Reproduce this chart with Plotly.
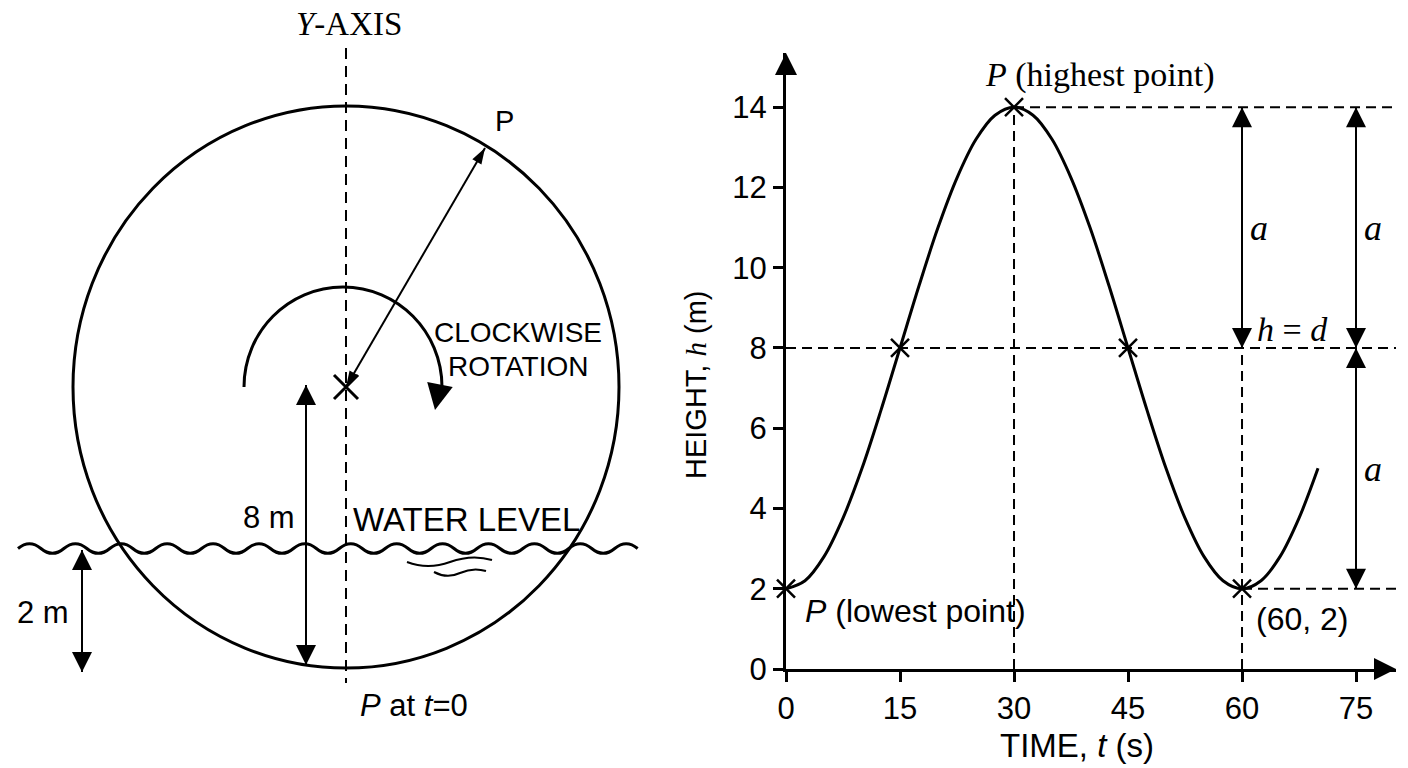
import math
import plotly.graph_objects as go

W, H = 1408, 768
SANS = "Liberation Sans, Arial, sans-serif"
SERIF = "Liberation Serif, Times New Roman, serif"


def fx(px):
    return px / W


def fy(py):
    return (H - py) / H


# ---------------- right chart: data ----------------
time_s = [0, 2.5, 5, 7.5, 10, 12.5, 15, 17.5, 20, 22.5, 25, 27.5, 30,
          32.5, 35, 37.5, 40, 42.5, 45, 47.5, 50, 52.5, 55, 57.5, 60,
          62.5, 65, 67.5, 70]
height_m = [2.0, 2.2, 2.8, 3.76, 5.0, 6.45, 8.0, 9.55, 11.0, 12.24, 13.2, 13.8, 14.0,
            13.8, 13.2, 12.24, 11.0, 9.55, 8.0, 6.45, 5.0, 3.76, 2.8, 2.2, 2.0,
            2.2, 2.8, 3.76, 5.0]
key_t = [0, 15, 30, 45, 60]
key_h = [2, 8, 14, 8, 2]
x_ticks = [0, 15, 30, 45, 60, 75]
y_ticks = [0, 2, 4, 6, 8, 10, 12, 14]
h_max, h_mid, h_min = 14, 8, 2
t_peak, t_trough = 30, 60
t_arrow2 = 75

# axis extents (arrow tips)
T_END = 80.26
H_END = 15.35

# ---------------- left diagram geometry (diagram units, origin = wheel centre) ----
CX_PX, CY_PX = 346, 387          # wheel centre on the page
WHEEL_RX, WHEEL_RY = 273, 281
P_POINT = (139, 239)
ROT_C = (-3, 0)
ROT_RX, ROT_RY = 99, 100
ROT_TIP = (89, -23)
YAXIS_TOP, YAXIS_BOT = 339, -296
ARROW8_X, ARROW8_TOP, ARROW8_BOT = -40, 2, -278
ARROW2_X, ARROW2_TOP, ARROW2_BOT = -264, -163, -285
WAVE_Y, WAVE_A, WAVE_P, WAVE_X0, WAVE_HALVES = -161.5, 4.8, 45.9, -328, 27

fig = go.Figure()

LX, LY = "x", "y"
RX, RY = "x2", "y2"


def line(xs, ys, xa, ya, width=2, dash=None):
    fig.add_trace(go.Scatter(x=xs, y=ys, xaxis=xa, yaxis=ya, mode="lines",
                             line=dict(color="black", width=width, dash=dash),
                             hoverinfo="skip", cliponaxis=False))


def head(x, y, angle, xa, ya, size=20, symbol="arrow-up"):
    fig.add_trace(go.Scatter(x=[x], y=[y], xaxis=xa, yaxis=ya, mode="markers",
                             marker=dict(symbol=symbol, size=size, angle=angle,
                                         color="black", line=dict(width=0)),
                             hoverinfo="skip", cliponaxis=False))


def dbl_vertical(x, y_top, y_bot, xa, ya, size=20, width=2):
    line([x, x], [y_top, y_bot], xa, ya, width)
    head(x, y_top, 0, xa, ya, size)
    head(x, y_bot, 180, xa, ya, size)


# ---------- left diagram ----------
line([0, 0], [YAXIS_TOP, YAXIS_BOT], LX, LY, 2, "11px,7px")
line([0, P_POINT[0]], [0, P_POINT[1]], LX, LY, 2)
ang = math.degrees(math.atan2(P_POINT[0], P_POINT[1]))
head(P_POINT[0], P_POINT[1], ang, LX, LY, 17, "arrow")
head(0, 0, ang + 180, LX, LY, 17, "arrow")
fig.add_trace(go.Scatter(x=[0], y=[0], xaxis=LX, yaxis=LY, mode="markers",
                         marker=dict(symbol="x-thin", size=24, line=dict(width=3, color="black")),
                         hoverinfo="skip"))
dbl_vertical(ARROW8_X, ARROW8_TOP, ARROW8_BOT, LX, LY, 20, 2)
dbl_vertical(ARROW2_X, ARROW2_TOP, ARROW2_BOT, LX, LY, 20, 2)
head(ROT_TIP[0], ROT_TIP[1], 191, LX, LY, 26)

# ---------- right chart ----------
DASH = "10px,6px"
line([0, T_END], [h_mid, h_mid], RX, RY, 2, DASH)
line([t_peak, T_END], [h_max, h_max], RX, RY, 2, DASH)
line([t_trough, T_END], [h_min, h_min], RX, RY, 2, DASH)
line([t_peak, t_peak], [0, h_max], RX, RY, 2, DASH)
line([t_trough, t_trough], [0, h_mid], RX, RY, 2, DASH)

fig.add_trace(go.Scatter(x=time_s, y=height_m, xaxis=RX, yaxis=RY, mode="lines",
                         line=dict(color="black", width=3, shape="spline"),
                         hoverinfo="skip", cliponaxis=False))
fig.add_trace(go.Scatter(x=key_t, y=key_h, xaxis=RX, yaxis=RY, mode="markers",
                         marker=dict(symbol="x-thin", size=18, line=dict(width=2.5, color="black")),
                         hoverinfo="skip", cliponaxis=False))

dbl_vertical(t_trough, h_max, h_mid, RX, RY, 20, 2)
dbl_vertical(t_arrow2, h_max, h_mid, RX, RY, 20, 2)
dbl_vertical(t_arrow2, h_mid, h_min, RX, RY, 20, 2)

head(0, H_END, 0, RX, RY, 22)
head(T_END, 0, 90, RX, RY, 22)

# ---------- shapes for left diagram ----------
shapes = []
shapes.append(dict(type="circle", xref=LX, yref=LY, x0=-WHEEL_RX, x1=WHEEL_RX,
                   y0=-WHEEL_RY, y1=WHEEL_RY, line=dict(color="black", width=3)))
k = 0.5523
cx, cy = ROT_C
rx, ry = ROT_RX, ROT_RY
end_x = cx + rx * math.cos(math.radians(-2))
end_y = cy + ry * math.sin(math.radians(-2))
arc = (f"M {cx - rx},{cy} C {cx - rx},{cy + k * ry} {cx - k * rx},{cy + ry} {cx},{cy + ry} "
       f"C {cx + k * rx},{cy + ry} {cx + rx},{cy + k * ry} {cx + rx},{cy} L {end_x},{end_y}")
shapes.append(dict(type="path", xref=LX, yref=LY, path=arc, line=dict(color="black", width=3)))

half = WAVE_P / 2
wp = f"M {WAVE_X0},{WAVE_Y} Q {WAVE_X0 + WAVE_P / 4},{WAVE_Y + 2 * WAVE_A} {WAVE_X0 + half},{WAVE_Y}"
for i in range(2, WAVE_HALVES + 1):
    wp += f" T {WAVE_X0 + i * half},{WAVE_Y}"
shapes.append(dict(type="path", xref=LX, yref=LY, path=wp, line=dict(color="black", width=3)))
shapes.append(dict(type="path", xref=LX, yref=LY,
                   path="M 61,-175 Q 82,-183 104,-175 T 146,-173",
                   line=dict(color="black", width=2)))
shapes.append(dict(type="path", xref=LX, yref=LY,
                   path="M 88,-185 Q 101,-192 114,-186 T 140,-184",
                   line=dict(color="black", width=2)))


def txt(x, y, text, xa, ya, size=30, family=SANS, xanchor="center", **kw):
    return dict(x=x, y=y, xref=xa, yref=ya, text=text, showarrow=False,
                font=dict(family=family, size=size, color="black"),
                xanchor=xanchor, yanchor="middle", **kw)


anns = [
    txt(3, 363, "<i>Y</i>-AXIS", LX, LY, 33, SERIF),
    txt(158, 266, "P", LX, LY, 29),
    txt(172, 55, "CLOCKWISE", LX, LY, 28),
    txt(172, 21, "ROTATION", LX, LY, 28),
    txt(-77, -130, "8 m", LX, LY, 31),
    txt(120, -132, "WATER LEVEL", LX, LY, 33),
    txt(-303, -225, "2 m", LX, LY, 31),
    txt(68, -318, "<i>P</i> at <i>t</i>=0", LX, LY, 31),
    # right chart
    txt(41.3, 14.8, "<i>P</i> (highest point)", RX, RY, 34, SERIF),
    txt(2.3, 1.45, "<i>P</i> (lowest point)", RX, RY, 32, SANS, "left"),
    txt(61.6, 1.25, "(60, 2)", RX, RY, 32, SANS, "left"),
    txt(66.7, 8.45, "<i>h</i> = <i>d</i>", RX, RY, 34, SERIF),
    txt(62.2, 11.0, "<i>a</i>", RX, RY, 36, SERIF),
    txt(77.2, 11.0, "<i>a</i>", RX, RY, 36, SERIF),
    txt(77.2, 4.98, "<i>a</i>", RX, RY, 36, SERIF),
    dict(x=fx(696), y=fy(385), xref="paper", yref="paper", showarrow=False,
         text=f"HEIGHT, <span style='font-family:{SERIF}'><i>h</i></span> (m)",
         textangle=-90, font=dict(family=SANS, size=29, color="black"),
         xanchor="center", yanchor="middle"),
    dict(x=fx(1077), y=fy(745), xref="paper", yref="paper", showarrow=False,
         text="TIME, <i>t</i> (s)", font=dict(family=SANS, size=33, color="black"),
         xanchor="center", yanchor="middle"),
]

fig.update_layout(
    width=W, height=H, margin=dict(l=0, r=0, t=0, b=0, autoexpand=False),
    paper_bgcolor="white", plot_bgcolor="rgba(0,0,0,0)", showlegend=False,
    shapes=shapes, annotations=anns,
    xaxis=dict(domain=[0, fx(700)], range=[-CX_PX, 700 - CX_PX],
               visible=False, fixedrange=True),
    yaxis=dict(domain=[0, 1], range=[CY_PX - H, CY_PX],
               visible=False, fixedrange=True, anchor="x"),
    xaxis2=dict(domain=[fx(786), fx(1396)], range=[0, T_END], anchor="y2",
                tickvals=x_ticks, ticks="outside", ticklen=10, tickwidth=2.5, tickcolor="black",
                showline=True, linewidth=3, linecolor="black", showgrid=False, zeroline=False,
                tickfont=dict(family=SANS, size=31, color="black"), fixedrange=True),
    yaxis2=dict(domain=[fy(669), fy(53)], range=[0, H_END], anchor="x2",
                tickvals=y_ticks, ticks="outside", ticklen=10, tickwidth=2.5, tickcolor="black",
                showline=True, linewidth=3, linecolor="black", showgrid=False, zeroline=False,
                tickfont=dict(family=SANS, size=31, color="black"), fixedrange=True),
)

# remove the page's default body margin so the 1408x768 figure fills the window exactly
fig.write_html("out.html", config={"displayModeBar": False},
               post_script="document.body.style.margin='0px';document.body.style.overflow='hidden';")
